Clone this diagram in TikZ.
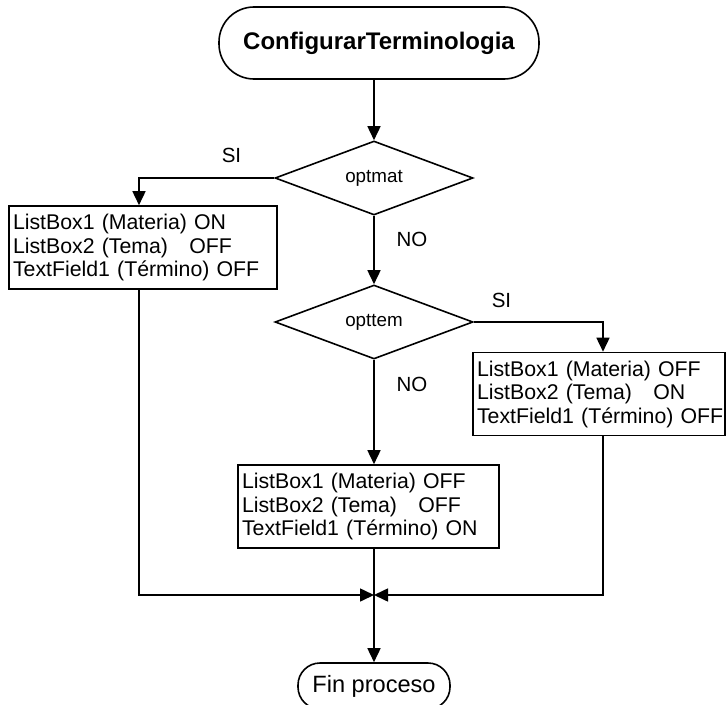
\documentclass[tikz,border=0pt]{standalone}
\usepackage{fontspec}
\setmainfont{Liberation Sans}
\usetikzlibrary{arrows.meta,shapes.geometric}

\begin{document}
\begin{tikzpicture}[x=1pt,y=-1pt,
  every node/.style={inner sep=0pt},
  terminal/.style={draw, line width=1.6pt, align=center},
  decision/.style={draw, shape=diamond, line width=1.6pt, minimum width=198pt,
    minimum height=74pt, font=\fontsize{18.8}{22}\selectfont},
  statebox/.style={draw, line width=1.6pt, align=left, inner xsep=4pt,
    minimum height=83pt, font=\fontsize{21.3}{23.5}\selectfont},
  lbl/.style={font=\fontsize{20.5}{24}\selectfont},
  flow/.style={draw, line width=1.6pt, -{Triangle[length=14pt,width=13pt]}},
  link/.style={draw, line width=1.6pt}]
\useasboundingbox (0,0) rectangle (728,704);

% start / end terminals
\node[terminal, minimum width=320pt, minimum height=72pt, rounded corners=35pt,
  font=\bfseries\fontsize{24}{28}\selectfont] (start) at (379,43) {ConfigurarTerminologia};
\node[terminal, minimum width=152pt, minimum height=46pt, rounded corners=22pt,
  font=\fontsize{23.6}{27}\selectfont] (fin) at (374,686) {Fin proceso};

% decisions
\node[decision] (d1) at (374,178) {optmat};
\node[decision] (d2) at (374,322) {opttem};

% state boxes (each line kept whole in an \mbox)
\node[statebox, text width=260pt] (b1) at (143,247.5)
  {\mbox{ListBox1 (Materia) ON}\\\mbox{ListBox2 (Tema)\ \ \ OFF}\\\mbox{TextField1 (Término) OFF}};
\node[statebox, text width=244pt] (b2) at (599,394)
  {\mbox{ListBox1 (Materia) OFF}\\\mbox{ListBox2 (Tema)\ \ \ ON}\\\mbox{TextField1 (Término) OFF}};
\node[statebox, text width=253pt] (b3) at (368.5,506.5)
  {\mbox{ListBox1 (Materia) OFF}\\\mbox{ListBox2 (Tema)\ \ \ OFF}\\\mbox{TextField1 (Término) ON}};

% branch labels
\node[lbl] (si1) at (231.5,155.5) {SI};
\node[lbl] (no1) at (412,239.5) {NO};
\node[lbl] (si2) at (501.5,300) {SI};
\node[lbl] (no2) at (412,384.5) {NO};

% merge point
\coordinate (j) at (374,595);

% connectors
\draw[flow] (start.south -| d1.north) -- (d1.north);
\draw[flow] (d1.west) -| ([xshift=-4pt]b1.north);
\draw[flow] (d1.south) -- (d2.north);
\draw[flow] (d2.east) -| ([xshift=4pt]b2.north);
\draw[flow] (d2.south) -- (d2.south |- b3.north);
\draw[flow] ([xshift=-4pt]b1.south) |- (j);
\draw[flow] ([xshift=4pt]b2.south) |- (j);
\draw[flow] (b3.south -| j) -- (fin.north);
\end{tikzpicture}
\end{document}
